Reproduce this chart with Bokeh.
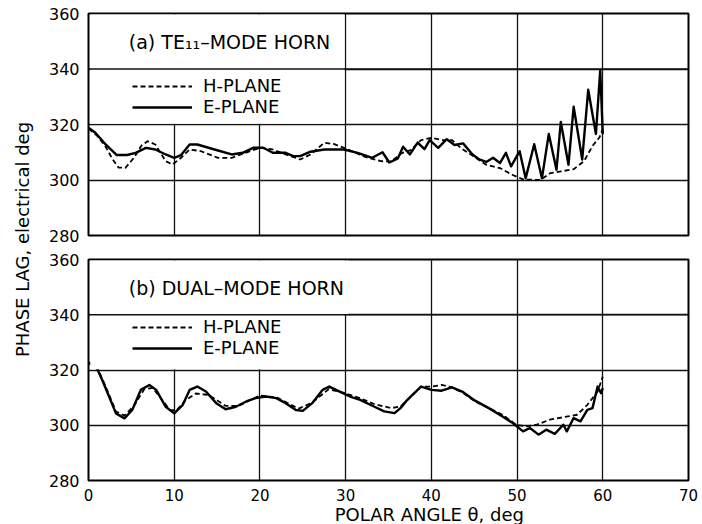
import math

from bokeh.embed import file_html
from bokeh.layouts import column, row
from bokeh.models import (BoxAnnotation, FixedTicker, Label, Legend,
                          LegendItem, Range1d, Span)
from bokeh.plotting import figure
from bokeh.resources import INLINE

FONT = "DejaVu Sans"

# Axis ticks
angle_ticks = [0, 10, 20, 30, 40, 50, 60, 70]
phase_ticks = [280, 300, 320, 340, 360]

# (a) TE11-mode horn
te11_h_angle = [0, 1, 2, 2.8, 3.5, 4.3, 5.3, 6.2, 6.9, 7.8, 9, 9.8, 10.8, 11.8,
                13.1, 15.1, 16.7, 18.3, 20, 21.5, 23, 24.7, 25.9, 27.5, 28.6,
                29.8, 31.6, 32.2, 34.1, 35.3, 36.5, 37.6, 38.8, 40, 41.2, 42.4,
                43.5, 44.7, 46.4, 48, 49.5, 50.7, 52.7, 53.9, 55.1, 56.6, 57.8,
                58.8, 59.6, 60]
te11_h_phase = [318.5, 316, 312, 307.5, 304.5, 304.4, 308, 312.5, 314, 312.8,
                306.8, 305.6, 308, 311, 310.4, 308, 308, 309.8, 311.6, 311,
                309.2, 307.4, 309.2, 313.4, 313, 311.6, 309.2, 308.4, 306.8,
                306.6, 309.6, 310.8, 314.4, 315.2, 314.4, 314.4, 311.4, 309,
                305.5, 304.3, 301.8, 300.2, 300, 302.5, 303.1, 303.9, 306.7,
                312.3, 315.3, 318.4]

te11_e_angle = [0, 0.8, 2, 3.3, 4.5, 5.5, 6.7, 7.8, 9, 10, 10.8, 11.8, 12.7,
                14.7, 16.7, 18, 19.2, 20.4, 21.5, 23, 23.9, 24.7, 25.9, 27.5,
                29.8, 31.4, 33.1, 34.3, 35.1, 36.1, 36.7, 37.5, 38.4, 39.2,
                39.8, 40.8, 41.8, 42.7, 43.7, 44.8, 45.6, 46.4, 47.2, 48, 48.7,
                49.3, 50.3, 51, 52, 52.9, 53.7, 54.6, 55.1, 56, 56.6, 57.6,
                58.3, 59.2, 59.7, 60]
te11_e_phase = [318.8, 317, 312.8, 309, 309, 309.8, 311.6, 311, 309.2, 308,
                309, 312.8, 312.8, 311, 309.2, 309.8, 311.6, 311.6, 309.8,
                309.8, 308.6, 308.6, 310.2, 311, 311, 309.8, 308, 310, 306.3,
                307.8, 312, 309.2, 313.5, 311.1, 314.4, 311.6, 314.7, 312.6,
                313.2, 309.2, 307.4, 306.5, 308, 306.1, 309.8, 304.9, 310.4,
                300.6, 312.9, 300.6, 316.6, 303.7, 320.9, 305.5, 326.4, 307.4,
                332.5, 316.6, 339.5, 316.5]

# (b) dual-mode horn
dual_h_angle = [0, 1, 2, 3.2, 4.2, 5.3, 6.5, 7.5, 8.5, 9.5, 10.3, 11.3, 12.5,
                14, 16, 17.5, 20, 22, 24.5, 26, 28, 29.5, 31.7, 33.3, 35.3,
                36.4, 37.5, 38.8, 40, 41.2, 42.4, 43.8, 45.1, 46.7, 48.3, 49.9,
                51.1, 52.3, 53.8, 55.4, 57, 58.2, 59.4, 60]
dual_h_phase = [322.5, 321, 314, 305, 303.5, 307, 313, 313.5, 309.5, 305.5,
                305.5, 309, 311.5, 311, 307, 307, 310.8, 310, 306, 308, 313,
                312, 309.8, 307.7, 306.2, 306.8, 310, 314, 314, 314.6, 313.7,
                311.5, 308.6, 306.2, 303.8, 300.2, 299.6, 300.2, 302, 302.9,
                303.8, 307.4, 312.2, 317.6]

dual_e_angle = [0, 0.9, 1.6, 2.4, 3.2, 4.2, 5.1, 6.1, 7.1, 7.9, 9, 10, 11,
                11.8, 12.7, 13.7, 14.9, 16, 17.2, 18.4, 19.5, 20.7, 21.9, 23,
                24.2, 25, 26.1, 27.3, 28.1, 29.3, 30.5, 31.7, 33.3, 34.5, 35.7,
                36.4, 37.2, 38, 38.8, 40, 41.2, 42.4, 43.6, 45.1, 46.7, 48.3,
                49.5, 50.7, 51.5, 52.5, 53.4, 54.4, 55.4, 55.8, 56.6, 57.4,
                58.2, 58.8, 59.4, 59.8, 60]
dual_e_phase = [322.7, 321.2, 316.4, 310.4, 304.3, 302.5, 305.5, 312.8, 314.6,
                312.8, 306.7, 304.3, 307.4, 312.8, 314, 312.2, 308, 305.8,
                306.7, 308.6, 309.8, 310.4, 309.8, 308, 305.5, 305.2, 308,
                312.8, 314, 312.2, 310.4, 309.2, 306.8, 305, 304.4, 306.2,
                309.2, 311.6, 314, 312.8, 312.5, 313.7, 312.2, 308.9, 306.2,
                303.2, 300.8, 297.8, 299, 296.6, 298.4, 296.9, 300.2, 297.8,
                302.6, 301.4, 305.6, 306.2, 314, 311.6, 313.4]


def make_panel(height, border_top, border_bottom, title, h_x, h_y, e_x, e_y,
               blank_boxes, legend_bottom, show_x):
    p = figure(width=662, height=height,
               x_range=Range1d(0, 70), y_range=Range1d(280, 360),
               output_backend="svg", toolbar_location=None,
               min_border_left=48, min_border_right=14,
               min_border_top=border_top, min_border_bottom=border_bottom)
    p.background_fill_color = "white"
    p.border_fill_color = "white"
    p.outline_line_color = "black"
    p.outline_line_width = 2
    p.outline_line_alpha = 1

    for g, ticks in ((p.xgrid, angle_ticks), (p.ygrid, phase_ticks)):
        g.ticker = FixedTicker(ticks=ticks)
        g.grid_line_color = "#111111"
        g.grid_line_width = 1.3
        g.grid_line_alpha = 1

    p.yaxis.ticker = FixedTicker(ticks=phase_ticks)
    p.xaxis.ticker = FixedTicker(ticks=angle_ticks)
    for ax in (p.xaxis, p.yaxis):
        ax.axis_line_color = None
        ax.major_tick_line_color = None
        ax.minor_tick_line_color = None
        ax.major_label_text_font = FONT
        ax.major_label_text_font_size = "16px"
        ax.major_label_text_color = "black"
    p.xaxis.major_label_text_font_size = "15px"
    p.yaxis.major_label_standoff = 3
    p.xaxis.major_label_standoff = 2
    p.xaxis.visible = show_x

    # clear the grid behind the panel caption and key
    for left, right, bottom, top in blank_boxes:
        p.add_layout(BoxAnnotation(left=left, right=right, bottom=bottom,
                                   top=top, fill_color="white", fill_alpha=1,
                                   line_color=None))
    p.add_layout(Span(location=340, dimension="width", line_color="#111111",
                      line_width=1.3))

    r_h = p.line(h_x, h_y, line_color="black", line_width=1.8,
                 line_dash="5 3")
    r_e = p.line(e_x, e_y, line_color="black", line_width=2.4,
                 line_join="round")

    legend = Legend(items=[LegendItem(label="H-PLANE", renderers=[r_h]),
                           LegendItem(label="E-PLANE", renderers=[r_e])],
                    location=(44, legend_bottom), orientation="vertical",
                    glyph_width=60, glyph_height=20, label_height=20,
                    spacing=0, padding=0, margin=0, label_standoff=11,
                    label_text_font=FONT, label_text_font_size="18px",
                    label_text_color="black",
                    background_fill_alpha=0, border_line_alpha=0)
    p.add_layout(legend, "center")

    p.add_layout(Label(x=4.7, y=349.7, text=title, text_font=FONT,
                       text_font_size="19px", text_baseline="middle",
                       text_color="black"))
    return p


top = make_panel(246, 13, 11, "(a) TE\u2081\u2081\u2013MODE HORN",
                 te11_h_angle, te11_h_phase, te11_e_angle, te11_e_phase,
                 [(0.2, 29.85, 320.25, 359.6)], 118, False)

bottom = make_panel(257, 13, 20, "(b) DUAL\u2013MODE HORN",
                    dual_h_angle, dual_h_phase, dual_e_angle, dual_e_phase,
                    [(0.2, 29.85, 320.25, 359.6), (29.8, 30.3, 340.2, 359.6)],
                    122, True)


def text_strip(width, height, text, x, y, size, angle=0.0):
    s = figure(width=width, height=height, x_range=Range1d(0, width),
               y_range=Range1d(0, height), output_backend="svg",
               toolbar_location=None, min_border=0)
    s.axis.visible = False
    s.grid.visible = False
    s.outline_line_color = None
    s.add_layout(Label(x=x, y=y, angle=angle, text=text, text_font=FONT,
                       text_font_size=size, text_align="center",
                       text_baseline="middle", text_color="black"))
    return s


# shared axis titles
x_title = text_strip(662, 21, "POLAR ANGLE \u03b8, deg", 376, 10.5, "18px")
y_title = text_strip(40, 524, "PHASE LAG, electrical deg", 22, 285, "18px",
                     angle=math.pi / 2)

layout = row(y_title, column(top, bottom, x_title, spacing=0), spacing=0)

with open("out.html", "w") as f:
    f.write(file_html(layout, INLINE))
